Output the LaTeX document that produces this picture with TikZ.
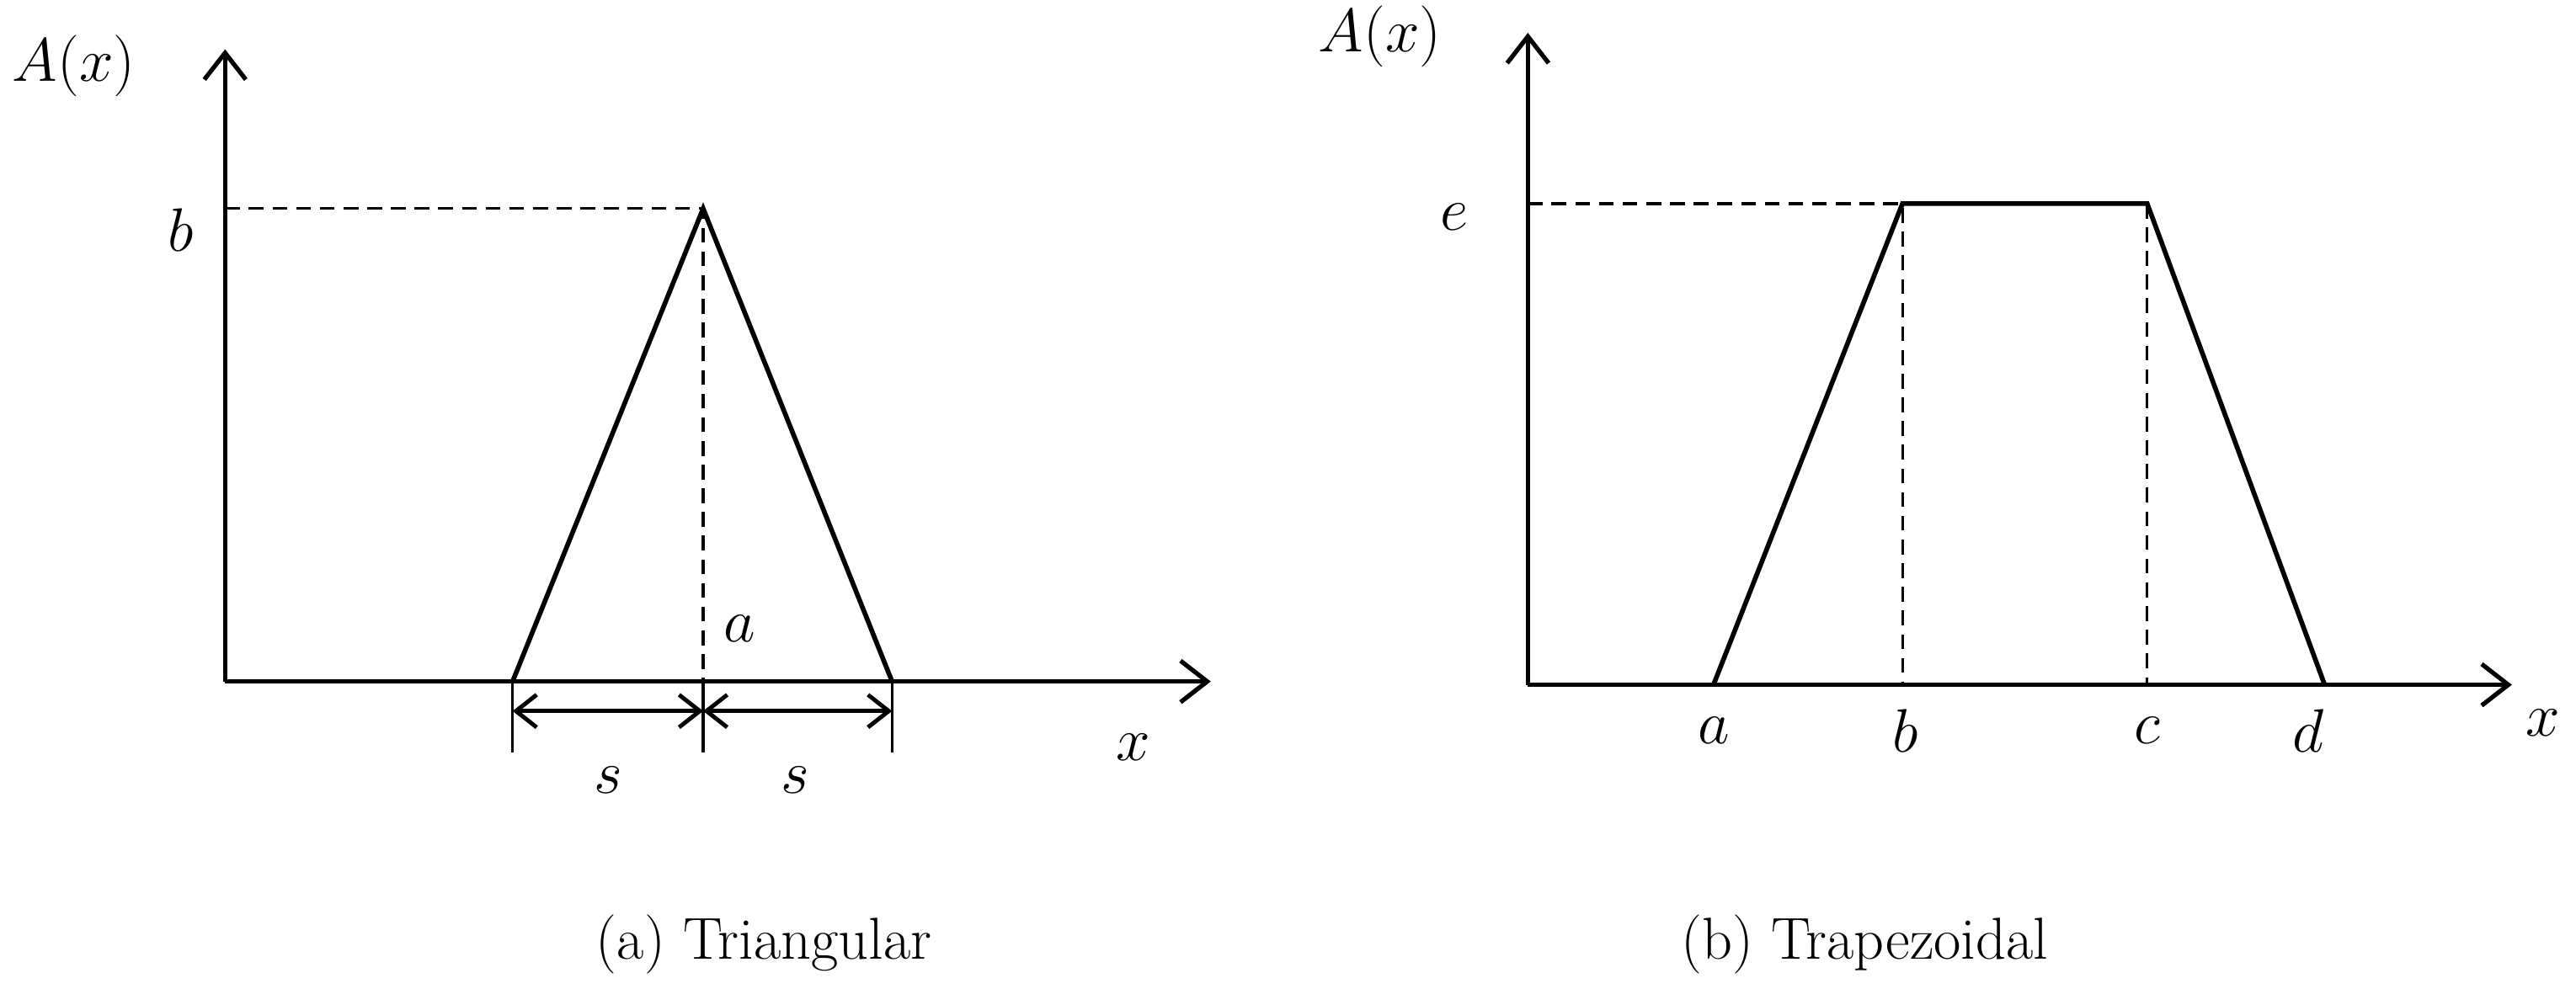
\documentclass[tikz,border=0pt]{standalone}
\usetikzlibrary{arrows.meta}
\begin{document}
\begin{tikzpicture}[x=0.0195cm,y=-0.0195cm,
  ax/.style={line width=1.5pt,-{Straight Barb[length=9pt,width=14pt,line width=1.5pt]}},
  fn/.style={line width=1.6pt,line join=miter},
  dsh/.style={line width=0.9pt,dash pattern=on 5pt off 3pt},
  dim/.style={line width=1.4pt,{Straight Barb[length=7pt,width=11pt,line width=1.4pt]}-{Straight Barb[length=7pt,width=11pt,line width=1.4pt]}},
  lab/.style={font=\fontsize{20}{24}\selectfont},
  captext/.style={font=\fontsize{20}{24}\selectfont}]
\useasboundingbox (0,0) rectangle (1568,602);
% left
\coordinate (o1) at (137,415);
\coordinate (yt1) at (137,30);
\coordinate (xt1) at (737,415);
\coordinate (t1) at (312,415);
\coordinate (t2) at (428,127);
\coordinate (t3) at (543,415);
\coordinate (b1) at (137,127);
\coordinate (a1) at (428,415);
\draw[ax] (o1) -- (yt1);
\draw[ax] (o1) -- (xt1);
\draw[fn] (t1) -- (t2) -- (t3);
\draw[dsh] (b1) -- (t2) -- (a1);
\draw[line width=1pt] (312,415) -- (312,458) (428,415) -- (428,458) (543,415) -- (543,458);
\draw[dim] (312,433) -- (428,433);
\draw[dim] (428,433) -- (543,433);
\node[lab] (lA1) at (45,40) {$A(x)$};
\node[lab] (lb1) at (110,140) {$b$};
\node[lab] (la1) at (450,383) {$a$};
\node[lab] (ls1) at (370,475) {$s$};
\node[lab] (ls2) at (484,475) {$s$};
\node[lab] (lx1) at (690,455) {$x$};
\node[captext] (c1) at (465,575) {(a) Triangular};
% right
\coordinate (o2) at (930,417);
\coordinate (yt2) at (930,20);
\coordinate (xt2) at (1529,417);
\coordinate (p1) at (1043,417);
\coordinate (p2) at (1158,124);
\coordinate (p3) at (1307,124);
\coordinate (p4) at (1415,417);
\coordinate (e2) at (930,124);
\draw[ax] (o2) -- (yt2);
\draw[ax] (o2) -- (xt2);
\draw[fn] (p1) -- (p2) -- (p3) -- (p4);
\draw[dsh] (e2) -- (p2) -- (1158,417);
\draw[dsh] (p3) -- (1307,417);
\node[lab] (lA2) at (840,22) {$A(x)$};
\node[lab] (le2) at (885,132) {$e$};
\node[lab] (la2) at (1043,445) {$a$};
\node[lab] (lb2) at (1160,445) {$b$};
\node[lab] (lc2) at (1307,445) {$c$};
\node[lab] (ld2) at (1405,445) {$d$};
\node[lab] (lx2) at (1548,440) {$x$};
\node[captext] (c2) at (1135,575) {(b) Trapezoidal};
\end{tikzpicture}
\end{document}
